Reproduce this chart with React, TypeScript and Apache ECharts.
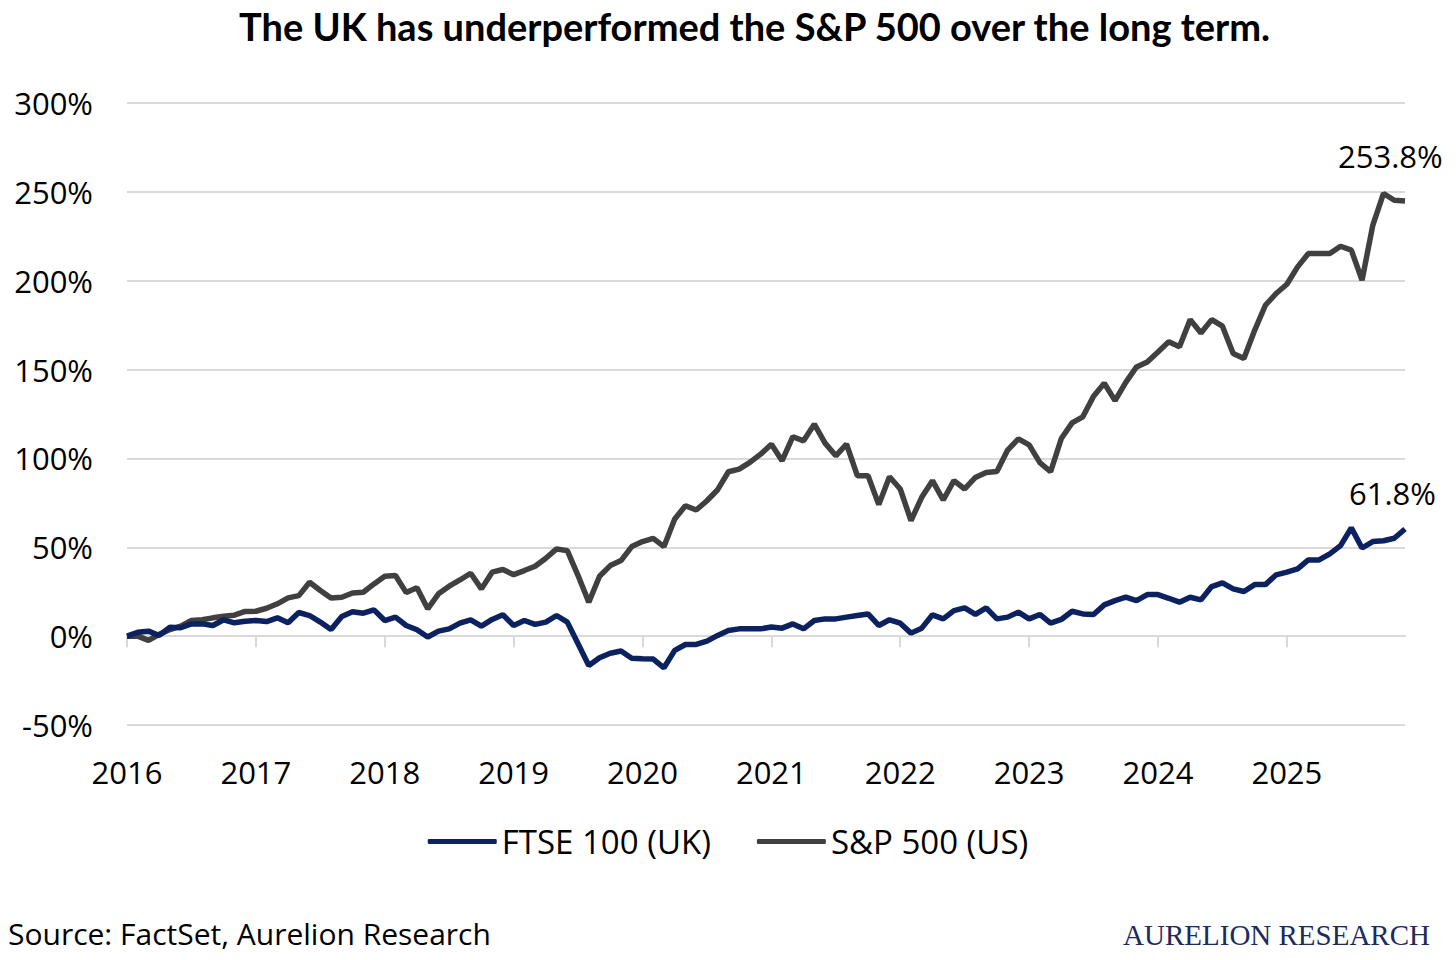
import { useEffect, useRef } from 'react';
import * as echarts from 'echarts';

const START_YEAR = 2016;
const MONTHS = 120;

// month categories Jan 2016 .. Dec 2025
const months: string[] = [];
for (let i = 0; i < MONTHS; i++) {
  months.push(`${START_YEAR + Math.floor(i / 12)}-${String((i % 12) + 1).padStart(2, '0')}`);
}

// cumulative total return, %
const ftse = [
  0, 2.2, 2.8, 0.4, 5, 4.7, 6.9, 6.9, 6, 9.2, 7.5, 8.4,
  8.8, 8.2, 10.3, 7.5, 13.3, 11.6, 7.9, 3.7, 11, 13.7, 12.9, 14.8,
  8.8, 10.7, 6, 3.6, -0.5, 2.8, 4.1, 7.3, 9.2, 5.6, 9.4, 12,
  6, 8.8, 6.6, 7.9, 11.6, 7.9, -4.3, -16.5, -12.2, -9.6, -8.4, -12.4,
  -12.7, -12.9, -17.8, -8, -4.7, -4.7, -2.8, 0.4, 3.2, 4.1, 4.1, 4.1,
  5.1, 4.5, 6.9, 4.1, 8.8, 9.7, 9.7, 10.7, 11.6, 12.5, 6, 9.2,
  7.3, 1.7, 4.5, 12, 9.7, 14.4, 15.9, 12.2, 15.9, 9.7, 10.7, 13.5,
  9.7, 12.2, 7.3, 9.4, 14, 12.5, 12.2, 17.6, 20, 21.9, 20, 23.4,
  23.4, 21.3, 19.1, 21.9, 20.4, 27.9, 30, 26.6, 25.1, 29, 29, 34.5,
  36, 37.8, 42.9, 42.9, 46.3, 50.9, 60.9, 49.6, 53.2, 53.7, 55.1, 60.3,
];

const spx = [
  0, 0, -2.4, 1, 3.7, 5.6, 8.8, 9.2, 10.3, 11.2, 11.8, 13.9,
  14, 15.7, 18.2, 21.5, 22.8, 30.3, 25.7, 21.5, 21.9, 24.3, 24.7, 29.4,
  33.7, 34.1, 24.5, 27.2, 15.4, 23.8, 28.1, 31.6, 35.4, 26.6, 36, 37.5,
  34.6, 36.9, 39.3, 43.8, 49.1, 48.1, 34.1, 19.1, 33.7, 39.7, 42.5, 50.4,
  53.2, 55, 50.4, 65.9, 73.4, 71, 76.2, 82.4, 92.5, 94, 97.8, 102.4,
  108, 98.7, 112.2, 109.9, 119.3, 108.6, 101.5, 108, 90.3, 90.3, 74, 89.7,
  82.8, 65, 78.1, 87.5, 76.6, 87.5, 82.8, 89.3, 92.1, 92.7, 104.7, 111,
  107.6, 97.6, 92.5, 111.2, 120, 123.4, 135, 142.3, 132.5, 142.8, 151.5, 154.3,
  159.9, 165.6, 162.8, 178.1, 170.6, 178.1, 174.4, 159, 156.2, 172.1, 186.2, 192.8,
  198, 207.8, 215.3, 215.3, 215.3, 219.4, 217.2, 200.3, 231.2, 249.1, 245.3, 244.9,
];

const FTSE_END_LABEL = '61.8%';
const SPX_END_LABEL = '253.8%';

const FONT = '"Open Sans", "Noto Sans", sans-serif';
const NAVY = '#0b2160';
const GREY = '#404040';

export default function App() {
  const chartRef = useRef<HTMLDivElement>(null);

  useEffect(() => {
    document.body.style.margin = '0';
    if (!chartRef.current) return;
    const chart = echarts.init(chartRef.current, null, { renderer: 'svg' });

    const yearTick = (i: number) => i % 12 === 0;

    chart.setOption({
      animation: false,
      backgroundColor: '#fff',
      title: {
        text: 'The UK has underperformed the S&P 500 over the long term.',
        left: 234,
        top: 2,
        textStyle: { fontFamily: 'Lato, sans-serif', fontWeight: 'bold', fontSize: 38, color: '#000' },
      },
      grid: { left: 127, top: 103, width: 1278, height: 622, containLabel: false },
      legend: {
        top: 820,
        left: 'center',
        icon: 'roundRect',
        itemWidth: 69,
        itemHeight: 5,
        itemGap: 46,
        textStyle: { fontFamily: FONT, fontSize: 33, color: '#000' },
        data: ['FTSE 100 (UK)', 'S&P 500 (US)'],
      },
      xAxis: {
        type: 'category',
        data: months,
        boundaryGap: false,
        axisLine: { onZero: true, lineStyle: { color: '#d9d9d9', width: 2 } },
        axisTick: { show: true, interval: yearTick, length: 11, lineStyle: { color: '#d9d9d9', width: 2 } },
        axisLabel: {
          interval: yearTick,
          margin: 31,
          fontFamily: FONT,
          fontSize: 31,
          color: '#000',
          formatter: (v: string) => v.slice(0, 4),
        },
      },
      yAxis: {
        type: 'value',
        min: -50,
        max: 300,
        interval: 50,
        axisLine: { show: false },
        axisTick: { show: false },
        axisLabel: { formatter: '{value}%', margin: 34, fontFamily: FONT, fontSize: 31, color: '#000' },
        splitLine: { lineStyle: { color: '#d9d9d9', width: 2 } },
      },
      series: [
        {
          name: 'FTSE 100 (UK)',
          type: 'line',
          data: ftse,
          showSymbol: false,
          symbol: 'none',
          z: 3,
          lineStyle: { color: NAVY, width: 5.5 },
          itemStyle: { color: NAVY },
          endLabel: {
            show: true,
            formatter: FTSE_END_LABEL,
            offset: [-64, -36],
            fontFamily: FONT,
            fontSize: 31,
            color: '#000',
          },
        },
        {
          name: 'S&P 500 (US)',
          type: 'line',
          data: spx,
          showSymbol: false,
          symbol: 'none',
          z: 2,
          lineStyle: { color: GREY, width: 5.5 },
          itemStyle: { color: GREY },
          endLabel: {
            show: true,
            formatter: SPX_END_LABEL,
            offset: [-75, -45],
            fontFamily: FONT,
            fontSize: 31,
            color: '#000',
          },
        },
      ],
      graphic: [
        {
          type: 'text',
          left: 8,
          top: 918,
          style: { text: 'Source: FactSet, Aurelion Research', fontFamily: FONT, fontSize: 30, fill: '#000' },
        },
        {
          type: 'text',
          right: 26,
          top: 920,
          style: {
            text: 'AURELION RESEARCH',
            fontFamily: '"Liberation Serif", serif',
            fontSize: 29,
            fill: '#1c2a5e',
          },
        },
      ],
    });

    return () => chart.dispose();
  }, []);

  return <div ref={chartRef} style={{ width: 1456, height: 960 }} />;
}
